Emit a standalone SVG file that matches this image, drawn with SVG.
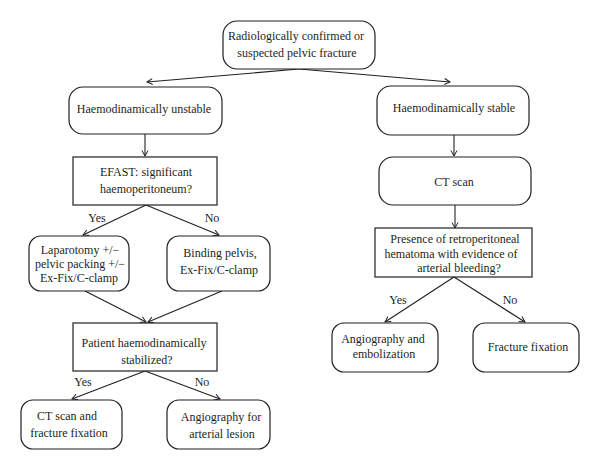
<svg xmlns="http://www.w3.org/2000/svg" width="600" height="470" viewBox="0 0 600 470">
<defs>
<marker id="arr" markerWidth="8" markerHeight="8" refX="6" refY="3.5" orient="auto" markerUnits="userSpaceOnUse">
<path d="M0.5,0.5 L6,3.5 L0.5,6.5" fill="none" stroke="#231f20" stroke-width="1"/>
</marker>
<style>
.box{fill:#fff;stroke:#231f20;stroke-width:1.2}
.t{font-family:"Liberation Serif","Times New Roman",serif;font-size:12px;fill:#231f20;text-anchor:middle}
.c{fill:none;stroke:#231f20;stroke-width:1.1;marker-end:url(#arr)}
</style>
</defs>
<rect width="600" height="470" fill="#fff"/>
<g id="connectors">
<line class="c" x1="299" y1="69" x2="147" y2="82"/>
<line class="c" x1="299" y1="69" x2="450" y2="82"/>
<line class="c" x1="145" y1="134" x2="145" y2="156"/>
<line class="c" x1="454" y1="135" x2="454" y2="156"/>
<line class="c" x1="455" y1="205" x2="455" y2="228"/>
<line class="c" x1="146" y1="205" x2="83" y2="235"/>
<line class="c" x1="146" y1="205" x2="219" y2="235"/>
<line class="c" x1="85" y1="291" x2="146" y2="322"/>
<line class="c" x1="222" y1="291" x2="148" y2="322"/>
<line class="c" x1="145" y1="371" x2="72" y2="399"/>
<line class="c" x1="145" y1="371" x2="220" y2="399"/>
<line class="c" x1="454" y1="277" x2="385" y2="322"/>
<line class="c" x1="454" y1="277" x2="525" y2="322"/>
</g>
<g id="labels">
<text class="t" x="97" y="222">Yes</text>
<text class="t" x="212" y="222">No</text>
<text class="t" x="83" y="386">Yes</text>
<text class="t" x="202" y="386">No</text>
<text class="t" x="398" y="304">Yes</text>
<text class="t" x="510" y="304">No</text>
</g>
<g id="start">
<rect class="box" x="223" y="21" width="152" height="48" rx="14"/>
<text class="t" x="296" y="40">Radiologically confirmed or</text>
<text class="t" x="297" y="57">suspected pelvic fracture</text>
</g>
<g id="unstable">
<rect class="box" x="69" y="87" width="153" height="47" rx="14"/>
<text class="t" x="144" y="113">Haemodinamically unstable</text>
</g>
<g id="stable">
<rect class="box" x="377" y="86" width="152" height="49" rx="14"/>
<text class="t" x="454" y="112">Haemodinamically stable</text>
</g>
<g id="efast">
<rect class="box" x="73" y="157" width="144" height="48"/>
<text class="t" x="146" y="176">EFAST: significant</text>
<text class="t" x="146" y="193">haemoperitoneum?</text>
</g>
<g id="ctscan">
<rect class="box" x="379" y="157" width="152" height="48" rx="14"/>
<text class="t" x="454" y="186">CT scan</text>
</g>
<g id="laparotomy">
<rect class="box" x="29" y="236" width="100" height="55" rx="12"/>
<text class="t" x="80" y="254">Laparotomy +/−</text>
<text class="t" x="80" y="268">pelvic packing +/−</text>
<text class="t" x="79" y="282">Ex-Fix/C-clamp</text>
</g>
<g id="binding">
<rect class="box" x="167" y="236" width="103" height="55" rx="12"/>
<text class="t" x="220" y="257">Binding pelvis,</text>
<text class="t" x="219" y="274">Ex-Fix/C-clamp</text>
</g>
<g id="presence">
<rect class="box" x="375" y="228" width="157" height="49"/>
<text class="t" x="455" y="243">Presence of retroperitoneal</text>
<text class="t" x="451" y="258">hematoma with evidence of</text>
<text class="t" x="459" y="272">arterial bleeding?</text>
</g>
<g id="patient">
<rect class="box" x="73" y="323" width="144" height="48"/>
<text class="t" x="144" y="347">Patient haemodinamically</text>
<text class="t" x="147" y="364">stabilized?</text>
</g>
<g id="angio-embol">
<rect class="box" x="332" y="323" width="106" height="49" rx="12"/>
<text class="t" x="383" y="343">Angiography and</text>
<text class="t" x="384" y="358">embolization</text>
</g>
<g id="fracture-fixation">
<rect class="box" x="473" y="323" width="106" height="49" rx="12"/>
<text class="t" x="528" y="351">Fracture fixation</text>
</g>
<g id="ct-fixation">
<rect class="box" x="21" y="400" width="101" height="49" rx="12"/>
<text class="t" x="67" y="420">CT scan and</text>
<text class="t" x="69" y="437">fracture fixation</text>
</g>
<g id="angio-lesion">
<rect class="box" x="167" y="400" width="103" height="49" rx="12"/>
<text class="t" x="221" y="421">Angiography for</text>
<text class="t" x="222" y="438">arterial lesion</text>
</g>
</svg>
